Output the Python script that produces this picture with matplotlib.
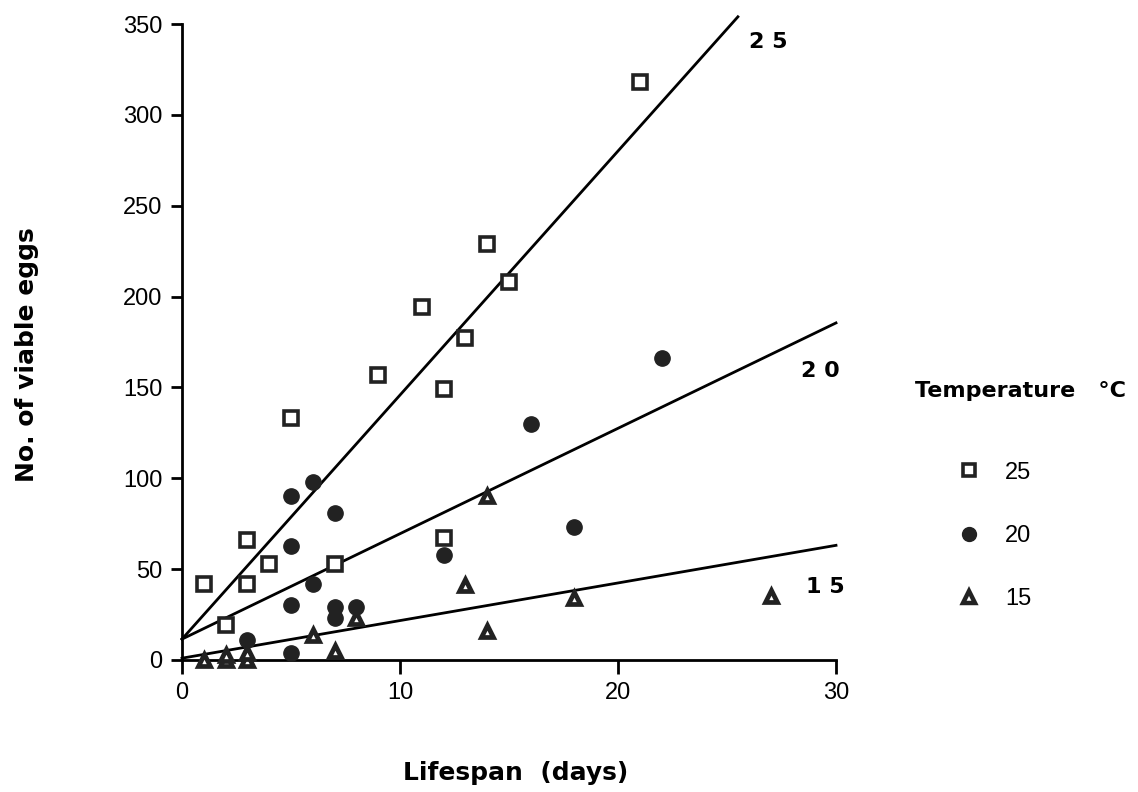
import matplotlib
matplotlib.use("Agg")
import matplotlib.pyplot as plt
from matplotlib.lines import Line2D

# data: lifespan (days) vs no. of viable eggs
days_25 = [1, 2, 3, 3, 4, 5, 7, 9, 11, 12, 12, 13, 14, 15, 21]
eggs_25 = [42, 19, 66, 42, 53, 133, 53, 157, 194, 149, 67, 177, 229, 208, 318]

days_20 = [3, 5, 5, 5, 5, 6, 6, 7, 7, 7, 8, 12, 16, 18, 22]
eggs_20 = [11, 4, 30, 63, 90, 42, 98, 23, 29, 81, 29, 58, 130, 73, 166]

days_15 = [1, 2, 2, 3, 3, 6, 7, 8, 13, 14, 14, 18, 27]
eggs_15 = [0, 0, 3, 0, 4, 14, 5, 23, 41, 90, 16, 34, 35]

# fitted regression lines (intercept, slope, last x)
temps = ["25", "20", "15"]
fit_intercept = [11.5, 11.5, 1.0]
fit_slope = [13.43, 5.8, 2.07]
fit_xmax = [25.5, 30, 30]
line_labels = ["2 5", "2 0", "1 5"]
label_pos = [(26.9, 340), (29.3, 159), (29.5, 40)]

plt.rcParams['font.family'] = ['Liberation Sans', 'DejaVu Sans']

fig = plt.figure(figsize=(11.38, 7.92), dpi=100)
ax = fig.add_axes([182 / 1138, 1 - 660 / 792, (836 - 182) / 1138, (660 - 24) / 792])

for b, m, xm, lab, (lx, ly) in zip(fit_intercept, fit_slope, fit_xmax, line_labels, label_pos):
    ax.plot([0, xm], [b, b + m * xm], color='black', lw=2.0, clip_on=False, zorder=2)
    ax.text(lx, ly, lab, fontsize=16, fontweight='bold', ha='center', va='center',
            family='DejaVu Sans')

ax.plot(days_25, eggs_25, linestyle='none', marker='s', ms=10, mfc='white', mec='#222222',
        mew=2.6, clip_on=False, zorder=3)
ax.plot(days_20, eggs_20, linestyle='none', marker='o', ms=11, mfc='#222222', mec='#222222',
        clip_on=False, zorder=3)
ax.plot(days_15, eggs_15, linestyle='none', marker='^', ms=8.5, mfc='white', mec='#222222',
        mew=3.4, clip_on=False, zorder=3)

ax.set_xlim(0, 30)
ax.set_ylim(0, 350)
ax.set_xticks([0, 10, 20, 30])
ax.set_yticks(range(0, 351, 50))
ax.tick_params(axis='x', direction='out', length=10, width=2, labelsize=17, pad=6)
ax.tick_params(axis='y', direction='out', length=8, width=2, labelsize=17, pad=6)
for s in ['top', 'right']:
    ax.spines[s].set_visible(False)
for s in ['left', 'bottom']:
    ax.spines[s].set_linewidth(2)

fig.text(516 / 1138, 1 - 773 / 792, "Lifespan  (days)", fontsize=18, fontweight='bold',
         ha='center', va='center', family='DejaVu Sans')
fig.text(27 / 1138, 1 - 355 / 792, "No. of viable eggs", fontsize=18, fontweight='bold',
         ha='center', va='center', rotation=90, family='DejaVu Sans')

# legend
fig.text(915 / 1138, 1 - 391 / 792, "Temperature   °C", fontsize=16, fontweight='bold',
         ha='left', va='center', family='DejaVu Sans')
handles = [
    Line2D([], [], linestyle='none', marker='s', ms=9, mfc='white', mec='#222222', mew=2.6),
    Line2D([], [], linestyle='none', marker='o', ms=10, mfc='#222222', mec='#222222'),
    Line2D([], [], linestyle='none', marker='^', ms=8, mfc='white', mec='#222222', mew=3.2),
]
fig.legend(handles, temps, loc='center left', bbox_to_anchor=(934 / 1138, 1 - 536 / 792),
           frameon=False, fontsize=17, labelspacing=1.75, handlelength=1.2, handletextpad=0.9)

fig.savefig("out.png", dpi=100)
